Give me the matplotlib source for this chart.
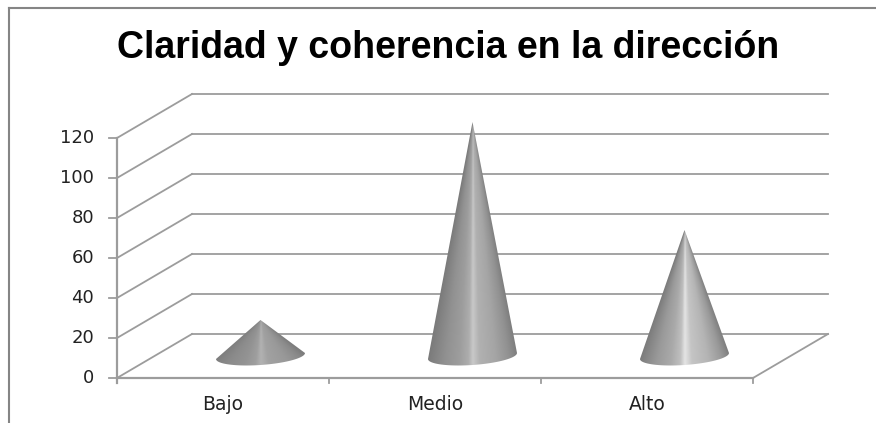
import numpy as np
import matplotlib
matplotlib.use("Agg")
import matplotlib.pyplot as plt
from matplotlib.lines import Line2D
from matplotlib.patches import PathPatch
from matplotlib.path import Path

W, H = 876, 423
categorias = ["Bajo", "Medio", "Alto"]
valores = [18, 117, 63]
ticks_y = [0, 20, 40, 60, 80, 100, 120]
brillo = [178, 200, 228]

GRIS = "#9c9c9c"
# floor depth, in data units (3d look of the excel chart)
DX = 75 / 212
DY = 22
RADIO = 44.5 / 212
TILT = 1.5   # base ellipse tilt, data units per half width
ALTO_ELIPSE = 4.5


def px_x(v):
    return v / W


def px_y(v):
    return 1 - v / H


fig = plt.figure(figsize=(W / 100, H / 100), dpi=100)
ax = fig.add_axes([117 / W, 1 - 378 / H, (753 - 117) / W, 240 / H])
ax.set_xlim(0, 3)
ax.set_ylim(0, 120)
ax.axis("off")

# gridlines + side walls
for t in ticks_y:
    ax.plot([0, DX], [t, t + DY], color=GRIS, lw=1.3, clip_on=False, zorder=1)
    ax.plot([DX, 3 + DX], [t + DY, t + DY], color=GRIS, lw=1.3, clip_on=False, zorder=1)
    ax.plot([-0.04, 0], [t, t], color=GRIS, lw=1.3, clip_on=False, zorder=2)
    ax.text(-0.108, t, str(t), ha="right", va="center", fontsize=13,
            color="#222222", family="DejaVu Sans")
ax.plot([0, 0], [-2.5, 120], color=GRIS, lw=1.6, clip_on=False, zorder=2)
ax.plot([0, 3], [0, 0], color=GRIS, lw=1.6, clip_on=False, zorder=2)
ax.plot([3, 3 + DX], [0, DY], color=GRIS, lw=1.3, clip_on=False, zorder=1)
for i in range(1, 4):
    ax.plot([i, i], [0, -2.5], color=GRIS, lw=1.3, clip_on=False, zorder=2)

# shading stops across the cone, -1 left edge, 1 right edge
u_stops = [-1, -0.6, -0.3, -0.1, 0, 0.15, 0.5, 0.8, 1]
g_stops = np.array([0.0, 0.3, 0.45, 0.65, 1.0, 0.7, 0.55, 0.3, 0.05])

for i, (cat, val, pico) in enumerate(zip(categorias, valores, brillo)):
    cx = i + 0.5 + DX / 2
    cy = DY / 2
    tope = cy + val

    # outline: apex then the lower half of the tilted base ellipse
    th = np.linspace(np.pi, 2 * np.pi, 60)
    ex = cx + RADIO * np.cos(th)
    ey = cy + ALTO_ELIPSE * np.sin(th) + TILT * np.cos(th)
    vx = np.r_[cx, ex, cx]
    vy = np.r_[tope, ey, tope]

    x0, x1 = cx - RADIO * 1.05, cx + RADIO * 1.05
    y0, y1 = cy - 10, tope
    gx, gy = np.meshgrid(np.linspace(x0, x1, 240), np.linspace(y0, y1, 400))
    frac = np.clip((tope - gy) / val, 0.01, None)
    u = np.clip((gx - cx) / (RADIO * frac), -1, 1)
    g = 122 + (pico - 122) * np.interp(u, u_stops, g_stops)
    im = ax.imshow(g, extent=[x0, x1, y0, y1], origin="lower", cmap="gray",
                   vmin=0, vmax=255, aspect="auto", zorder=3,
                   interpolation="bilinear")
    patch = PathPatch(Path(np.c_[vx, vy]), facecolor="none", edgecolor="none",
                      transform=ax.transData)
    ax.add_patch(patch)
    im.set_clip_box(fig.bbox)
    im.set_clip_path(patch)
    ax.set_xlim(0, 3)
    ax.set_ylim(0, 120)

    ax.text(i + 0.5, -13, cat, ha="center", va="center", fontsize=13.5,
            color="#222222", family="DejaVu Sans")

# outer chart border (only left and top are visible in the crop)
fig.add_artist(Line2D([px_x(9), px_x(9)], [px_y(423), px_y(8)], color="#858585", lw=1.5))
fig.add_artist(Line2D([px_x(9), px_x(876)], [px_y(8), px_y(8)], color="#858585", lw=1.5))

fig.text(px_x(448), px_y(58), "Claridad y coherencia en la dirección", ha="center",
         va="baseline", fontsize=27, fontweight="bold", family="Liberation Sans", color="black")

fig.savefig("out.png", dpi=100)
